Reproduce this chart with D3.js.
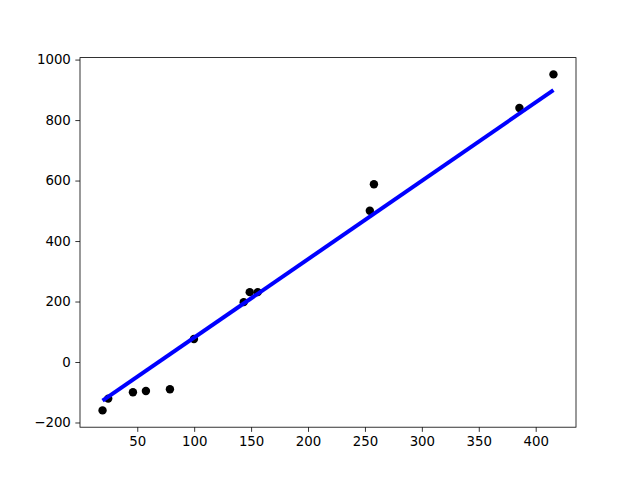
<!DOCTYPE html>
<html>
<head>
<meta charset="utf-8">
<script src="https://cdn.jsdelivr.net/npm/d3@7"></script>
<style>
body { margin: 0; background: #fff; }
.axis text { font: 13.33px "DejaVu Sans", sans-serif; fill: #000; }
.axis path, .axis line { stroke: #000; stroke-width: 0.8px; }
</style>
</head>
<body>
<svg id="chart" width="640" height="480"></svg>
<script>
// scatter points
var xs = [19.5, 24.5, 46.2, 57.6, 78.7, 99.8, 143.5, 148.8, 155.8, 254.3, 257.9, 385.7, 415.6];
var ys = [-160, -121, -100, -96, -90, 76, 198, 231, 231, 500, 588, 840, 951];

// fitted line, its two ends
var lineX = [19.5, 415.6];
var lineY = [-128, 899];

var xTicks = [50, 100, 150, 200, 250, 300, 350, 400];
var yTicks = [-200, 0, 200, 400, 600, 800, 1000];

var svg = d3.select("#chart"),
    margin = {top: 57.6, right: 64, bottom: 52.8, left: 80},
    width = +svg.attr("width"),
    height = +svg.attr("height");

function pad(ext) {
  var r = ext[1] - ext[0];
  return [ext[0] - r * 0.05, ext[1] + r * 0.05];
}

var x = d3.scaleLinear()
    .domain(pad(d3.extent(xs.concat(lineX))))
    .range([margin.left, width - margin.right]);

var y = d3.scaleLinear()
    .domain(pad(d3.extent(ys.concat(lineY))))
    .range([height - margin.bottom, margin.top]);

var points = xs.map((d, i) => ({x: d, y: ys[i]}));

svg.append("g")
  .selectAll("circle")
  .data(points)
  .enter().append("circle")
    .attr("cx", d => x(d.x))
    .attr("cy", d => y(d.y))
    .attr("r", 4.2)
    .attr("fill", "#000");

var line = d3.line()
    .x(d => x(d[0]))
    .y(d => y(d[1]));

svg.append("path")
    .datum(lineX.map((d, i) => [d, lineY[i]]))
    .attr("fill", "none")
    .attr("stroke", "#0000ff")
    .attr("stroke-width", 4)
    .attr("d", line);

// frame
svg.append("rect")
    .attr("x", margin.left)
    .attr("y", margin.top)
    .attr("width", width - margin.left - margin.right)
    .attr("height", height - margin.top - margin.bottom)
    .attr("fill", "none")
    .attr("stroke", "#000")
    .attr("stroke-width", 0.8);

svg.append("g")
    .attr("class", "axis")
    .attr("transform", "translate(0," + (height - margin.bottom) + ")")
    .call(d3.axisBottom(x).tickValues(xTicks).tickSize(4.67).tickPadding(4.5).tickSizeOuter(0))
    .call(g => g.select(".domain").remove());

svg.append("g")
    .attr("class", "axis")
    .attr("transform", "translate(" + margin.left + ",0)")
    .call(d3.axisLeft(y).tickValues(yTicks).tickSize(4.67).tickPadding(4.5)
      .tickFormat(d => d < 0 ? "\u2212" + Math.abs(d) : d))
    .call(g => g.select(".domain").remove());
</script>
</body>
</html>
